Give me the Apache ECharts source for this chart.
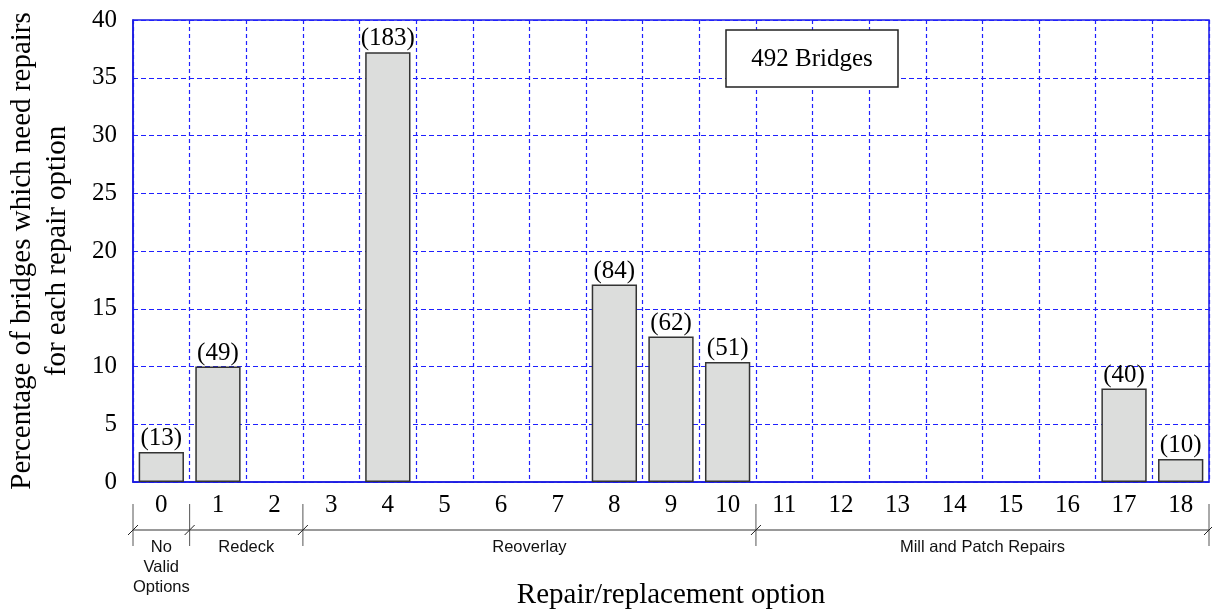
<!DOCTYPE html>
<html>
<head>
<meta charset="utf-8">
<script src="https://cdn.jsdelivr.net/npm/echarts@6/dist/echarts.min.js"></script>
<style>
html,body{margin:0;padding:0;background:#fff;}
#main{width:1212px;height:616px;}
</style>
</head>
<body>
<div id="main"></div>
<script>
// Categories (repair/replacement options)
const categories = ['0','1','2','3','4','5','6','7','8','9','10','11','12','13','14','15','16','17','18'];
// Percentage of bridges needing each repair option (null = no bar)
const percentages = [2.6, 10.0, null, null, 37.2, null, null, null, 17.1, 12.6, 10.4, null, null, null, null, null, null, 8.1, 2.0];
// Bridge counts shown above each bar
const counts = [13, 49, null, null, 183, null, null, null, 84, 62, 51, null, null, null, null, null, null, 40, 10];
// Option groups: label and boundaries (category index where each group starts; last = end)
const groupLabels = ['No\nValid\nOptions', 'Redeck', 'Reoverlay', 'Mill and Patch Repairs'];
const groupBounds = [0, 1, 3, 11, 19];
const totalLabel = '492 Bridges';
const yTicks = [0, 40, 5];

const serif = 'Liberation Serif';
const sans = 'Liberation Sans';
const gridBlue = '#2020ff';

const chart = echarts.init(document.getElementById('main'), null, {renderer: 'canvas'});

const option = {
  animation: false,
  backgroundColor: '#ffffff',
  grid: {
    left: 133, right: 3, top: 20, bottom: 134,
    outerBoundsMode: 'none',
    containLabel: false,
    show: true, borderColor: '#1a1ae0', borderWidth: 1.5, backgroundColor: 'transparent'
  },
  xAxis: {
    type: 'category',
    data: categories,
    boundaryGap: true,
    axisLine: {show: true, lineStyle: {color: '#1a1ae0', width: 1.5}},
    axisTick: {show: false},
    axisLabel: {color: '#000', fontFamily: serif, fontSize: 25, margin: 11, interval: 0},
    splitLine: {show: true, interval: 0, lineStyle: {color: [gridBlue], width: 1.2, type: [4, 3], opacity: 1}},
    name: 'Repair/replacement option',
    nameLocation: 'middle',
    nameGap: 99,
    nameTextStyle: {color: '#000', fontFamily: serif, fontSize: 29}
  },
  yAxis: {
    type: 'value',
    min: yTicks[0], max: yTicks[1], interval: yTicks[2],
    axisLine: {show: true, lineStyle: {color: '#1a1ae0', width: 1.5}},
    axisTick: {show: false},
    axisLabel: {color: '#000', fontFamily: serif, fontSize: 25, margin: 16},
    splitLine: {show: true, lineStyle: {color: [gridBlue], width: 1, type: [5, 3]}},
    name: 'Percentage of bridges which need repairs\nfor each repair option',
    nameLocation: 'middle',
    nameGap: 58,
    nameTextStyle: {color: '#000', fontFamily: serif, fontSize: 29, lineHeight: 35}
  },
  series: [{
    type: 'bar',
    data: percentages,
    barCategoryGap: '20%',
    itemStyle: {color: '#dcdddc', borderColor: '#333', borderWidth: 1.5},
    label: {
      show: true, position: 'top', distance: 1,
      color: '#000', fontFamily: serif, fontSize: 25,
      formatter: p => counts[p.dataIndex] == null ? '' : '(' + counts[p.dataIndex] + ')'
    }
  }]
};
chart.setOption(option);

function buildGraphics() {
  const c0 = chart.convertToPixel({xAxisIndex: 0}, 0);
  const c1 = chart.convertToPixel({xAxisIndex: 0}, 1);
  const bw = c1 - c0;
  const bx = i => c0 - bw / 2 + i * bw;
  const yLine = 530, yTop = 504, yBot = 546;
  const els = [];
  els.push({type: 'line', shape: {x1: bx(groupBounds[0]), y1: yLine, x2: bx(groupBounds[groupBounds.length - 1]), y2: yLine},
    style: {stroke: '#777', lineWidth: 1.5}, silent: true});
  groupBounds.forEach(b => {
    const x = bx(b);
    els.push({type: 'line', shape: {x1: x, y1: yTop, x2: x, y2: yBot}, style: {stroke: '#555', lineWidth: 1}, silent: true});
    els.push({type: 'line', shape: {x1: x - 5, y1: yLine + 5, x2: x + 5, y2: yLine - 5}, style: {stroke: '#222', lineWidth: 1}, silent: true});
  });
  groupLabels.forEach((lab, i) => {
    const cx = (bx(groupBounds[i]) + bx(groupBounds[i + 1])) / 2;
    els.push({type: 'text', x: cx, y: 537, style: {text: lab, fill: '#111', font: '16.5px ' + sans, align: 'center', verticalAlign: 'top', lineHeight: 20}, silent: true});
  });
  els.push({type: 'rect', shape: {x: 726, y: 30, width: 172, height: 57}, style: {fill: '#fff', stroke: '#222', lineWidth: 1.5}, z: 10});
  els.push({type: 'text', x: 812, y: 59, style: {text: totalLabel, fill: '#000', font: '25px ' + serif, align: 'center', verticalAlign: 'middle'}, z: 11});
  chart.setOption({graphic: els});
}
buildGraphics();
</script>
</body>
</html>
